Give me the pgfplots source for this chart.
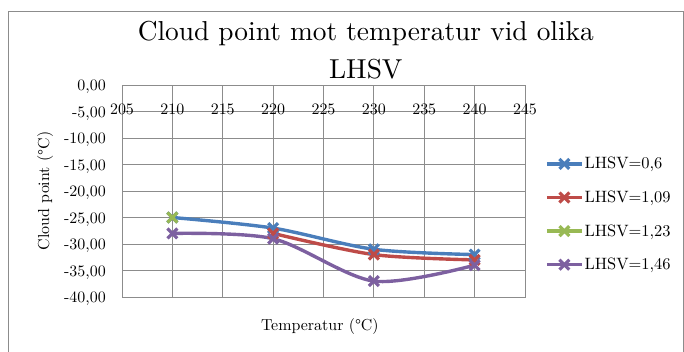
\documentclass[border=0pt]{standalone}
\usepackage{fontspec}
\setmainfont{lmroman10-regular.otf}
\usepackage{pgfplots}
\pgfplotsset{compat=1.18}
\definecolor{cblue}{HTML}{4A7EBB}
\definecolor{cred}{HTML}{BE4B48}
\definecolor{cgreen}{HTML}{98B954}
\definecolor{cpurple}{HTML}{7D60A0}
\definecolor{gridc}{HTML}{8C8C8C}
\begin{document}
\begin{tikzpicture}
\useasboundingbox (0,0) rectangle (684bp,352bp);
\draw[gridc, line width=0.8bp] (8bp,-5bp) -- (8bp,341bp) -- (683bp,341bp) -- (683bp,-5bp);
\begin{axis}[
  at={(122bp,55bp)}, anchor=south west,
  scale only axis, width=403bp, height=212bp,
  xmin=205, xmax=245, ymin=-40, ymax=0,
  xtick={205,210,...,245}, ytick={-40,-35,...,0},
  grid=major, major grid style={gridc, line width=0.8bp},
  axis line style={gridc, line width=0.8bp},
  major tick length=0pt,
  font=\fontsize{16}{19}\selectfont,
  /pgf/number format/assume math mode=true,
  xticklabel pos=upper,
  xticklabel style={anchor=center, inner sep=0pt, yshift=-24bp},
  yticklabel style={anchor=east, inner sep=0pt, xshift=-16bp, yshift=-2bp,
    /pgf/number format/.cd, fixed, fixed zerofill, precision=2, use comma},
  title={Cloud point mot temperatur vid olika\\LHSV},
  title style={font=\fontsize{27.5}{38}\selectfont, align=center, inner sep=0pt,
    at={(axis description cs:0.605,1)}, anchor=north, yshift=58bp},
  xlabel={Temperatur (°C)},
  xlabel style={at={(axis description cs:0.491,0)}, anchor=base, yshift=-34bp},
  ylabel={Cloud point (°C)},
  ylabel style={at={(axis description cs:-0.191,0.5)}, anchor=center},
  legend cell align=left,
  legend style={draw=none, fill=none, inner sep=0pt, row sep=18.5bp,
    at={(axis description cs:1.0496,0.39)}, anchor=west,
    nodes={inner sep=1bp}, font=\fontsize{16.5}{19}\selectfont},
  legend image code/.code={\draw[mark repeat=2,mark phase=2] plot coordinates {(0bp,0bp) (17.5bp,0bp) (35bp,0bp)};},
  every axis plot/.append style={line width=3.4bp, smooth, tension=0.5, mark=x, mark size=7bp, mark options={solid, line width=3.2bp}},
]
\addplot[cblue] coordinates {(210,-25) (220,-27) (230,-31) (240,-32)};
\addlegendentry{LHSV=0,6}
\addplot[cred] coordinates {(220,-28) (230,-32) (240,-33)};
\addlegendentry{LHSV=1,09}
\addplot[cgreen] coordinates {(210,-25)};
\addlegendentry{LHSV=1,23}
\addplot[cpurple] coordinates {(210,-28) (220,-29) (230,-37) (240,-34)};
\addlegendentry{LHSV=1,46}
\end{axis}
\end{tikzpicture}
\end{document}
